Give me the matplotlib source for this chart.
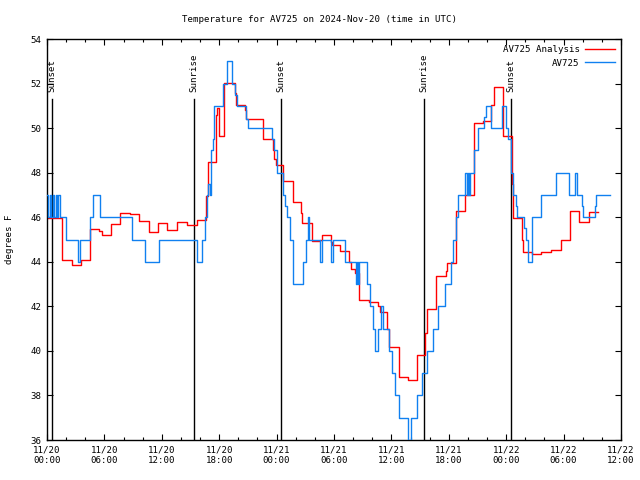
import matplotlib
matplotlib.use("Agg")
import matplotlib.pyplot as plt

# hours since 11/20 00:00 UTC, step values (deg F)
red_t = [0.0, 1.53, 2.65, 3.6, 4.5, 5.44, 5.7, 6.7, 7.65, 8.65, 9.65, 10.7, 11.63, 12.57,
         13.62, 14.6, 15.65, 16.58, 16.8, 17.63, 17.8, 17.98, 18.53, 19.65, 19.76, 20.7,
         20.85, 22.6, 23.6, 23.76, 23.94, 24.63, 25.68, 26.52, 26.69, 27.67, 28.54, 28.71,
         29.65, 29.76, 30.63, 31.6, 31.75, 32.2, 32.65, 33.69, 34.63, 34.8, 35.57, 35.78,
         36.76, 37.77, 38.64, 39.51, 39.69, 40.63, 41.67, 41.8, 42.75, 43.69, 44.63, 45.61,
         46.41, 46.72, 47.63, 48.6, 48.74, 49.62, 49.72, 50.73, 51.6, 52.65, 53.7, 54.7,
         55.64, 56.62, 57.6]
red_v = [45.95, 44.08, 43.85, 44.1, 45.47, 45.4, 45.2, 45.68, 46.2, 46.13, 45.85, 45.32, 45.73, 45.41,
         45.8, 45.65, 45.86, 46.96, 48.48, 50.6, 50.9, 49.64, 52.04, 51.56, 51.04, 50.8,
         50.4, 49.5, 49.0, 48.6, 48.34, 47.62, 46.68, 46.2, 45.75, 44.92, 45.0, 45.19,
         44.9, 44.75, 44.48, 44.0, 43.66, 43.48, 42.28, 42.21, 42.0, 41.75, 41.0, 40.19,
         38.84, 38.68, 39.8, 40.8, 41.87, 43.37, 43.6, 43.93, 46.28, 46.99, 50.21, 50.32,
         51.04, 51.86, 49.64, 47.5, 45.95, 45.0, 44.42, 44.33, 44.42, 44.53, 45.0, 46.26,
         45.78, 46.22, 46.22]

blue_t = [0.0, 0.15, 0.3, 0.45, 0.6, 0.75, 0.9, 1.1, 1.2, 1.35, 1.95, 3.2, 3.4, 4.5, 4.85,
          5.5, 8.9, 10.2, 11.75, 15.7, 16.2, 16.5, 16.7, 16.86, 17.0, 17.14, 17.32, 17.5,
          18.43, 18.78, 19.37, 19.65, 19.83, 20.77, 20.97, 23.55, 23.76, 24.07, 24.7,
          24.88, 25.05, 25.4, 25.75, 26.8, 27.04, 27.25, 27.42, 28.54, 28.74, 29.65, 29.86,
          31.15, 32.3, 32.45, 32.55, 32.65, 33.42, 33.76, 34.05, 34.28, 34.63, 34.87, 35.15,
          35.71, 36.03, 36.37, 36.83, 37.77, 38.01, 38.71, 38.99, 39.16, 39.69, 40.32, 40.9,
          41.6, 42.2, 42.47, 42.75, 43.0, 43.69, 43.9, 44.0, 44.1, 44.2, 44.63, 45.09,
          45.71, 45.85, 46.38, 47.53, 47.98, 48.22, 48.5, 48.74, 49.02, 49.16, 49.9, 50.03,
          50.3, 50.66, 50.73, 51.6, 53.17, 54.6, 55.19, 55.36, 55.89, 56.0, 57.28, 57.39,
          58.85]
blue_v = [47, 46, 47, 46, 47, 46, 47, 46, 47, 46, 45, 44, 45, 46, 47,
          46, 45, 44, 45, 44, 45, 46, 47, 47.5, 47, 49, 49.5, 51,
          52, 53, 52, 51.5, 51, 50.4, 50, 49.5, 49, 48, 47,
          46.5, 46, 45, 43, 44, 45, 46, 45, 44, 45, 44, 45,
          44, 43, 44, 43, 44, 43, 42, 41, 40, 41, 42, 41,
          40, 39, 38, 37, 36, 37, 38, 38, 39, 40, 41, 42,
          43, 44, 45, 46, 47, 48, 47, 48, 47, 48, 49, 50,
          50.5, 51, 50, 51, 50, 49.5, 48, 47, 46.5, 46, 45.5, 45,
          44, 45.5, 46, 47, 48, 47, 48, 47, 46.5, 46, 46.5, 47,
          47]

sun_t = [0.5, 15.35, 24.5, 39.4, 48.5]
sun_labels = ["Sunset", "Sunrise", "Sunset", "Sunrise", "Sunset"]

tick_hours = [0, 6, 12, 18, 24, 30, 36, 42, 48, 54, 60]
tick_labels = ["11/20\n00:00", "11/20\n06:00", "11/20\n12:00", "11/20\n18:00",
               "11/21\n00:00", "11/21\n06:00", "11/21\n12:00", "11/21\n18:00",
               "11/22\n00:00", "11/22\n06:00", "11/22\n12:00"]

plt.rcParams['font.family'] = ['DejaVu Sans Mono']
plt.rcParams['font.size'] = 6.6

fig = plt.figure(figsize=(6.4, 4.8), dpi=100)
ax = fig.add_axes([0.0734, 0.0833, 0.8969, 0.8354])

# sunrise / sunset markers
for t, lab in zip(sun_t, sun_labels):
    ax.plot([t, t], [36, 51.3], color='black', lw=1.0, zorder=1)
    ax.text(t, 51.62, lab, rotation=90, ha='center', va='bottom', fontsize=6.6)

ax.step(red_t + [red_t[-1]], red_v + [red_v[-1]], where='post', color='#ff0000',
        lw=1.0, label='AV725 Analysis', zorder=2)
ax.step(blue_t, blue_v, where='post', color='#1080f0', lw=1.0, label='AV725', zorder=3)

ax.set_xlim(0, 60)
ax.set_ylim(36, 54)
ax.set_xticks(tick_hours)
ax.set_xticklabels(tick_labels)
ax.set_xticks(range(0, 61, 2), minor=True)
ax.set_yticks(range(36, 55, 2))
ax.tick_params(which='both', direction='in', top=True, right=True, width=0.8)
ax.tick_params(which='major', length=4.5, pad=4)
ax.tick_params(which='minor', length=2.5)
ax.tick_params(axis='y', which='minor', left=False, right=False)
for s in ax.spines.values():
    s.set_linewidth(1.0)

fig.text(0.5, 1 - 20 / 480, "Temperature for AV725 on 2024-Nov-20 (time in UTC)",
         ha='center', va='center', fontsize=6.6)
ax.set_ylabel("degrees F", labelpad=12)

ax.legend(loc='upper right', markerfirst=False, frameon=False, handlelength=3.2,
          borderaxespad=0.3, labelspacing=0.45, handletextpad=0.6, fontsize=6.6)

fig.savefig("out.png", dpi=100)
